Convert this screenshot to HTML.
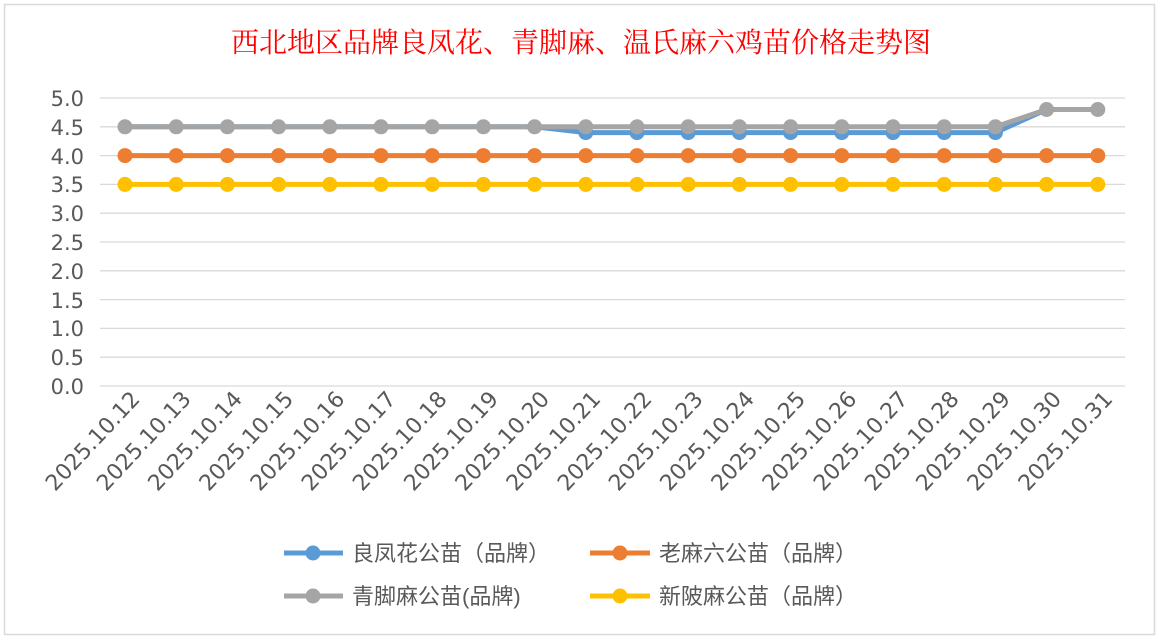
<!DOCTYPE html>
<html><head><meta charset="utf-8"><style>
html,body{margin:0;padding:0;background:#fff;}
svg{display:block;}
</style></head><body>
<svg width="1160" height="640" xmlns="http://www.w3.org/2000/svg">
<rect x="0" y="0" width="1160" height="640" fill="#fff"/>
<rect x="4.5" y="4.5" width="1150" height="630" fill="#fff" stroke="#d9d9d9" stroke-width="1.5"/>
<text x="581" y="52" text-anchor="middle" font-family="'Liberation Serif','Noto Serif CJK SC',serif" font-size="28" fill="#ff0000">西北地区品牌良凤花、青脚麻、温氏麻六鸡苗价格走势图</text>
<g stroke="#d9d9d9" stroke-width="1.3">
<line x1="100" x2="1125" y1="98" y2="98"/><line x1="100" x2="1125" y1="126.8" y2="126.8"/>
<line x1="100" x2="1125" y1="155.6" y2="155.6"/><line x1="100" x2="1125" y1="184.4" y2="184.4"/>
<line x1="100" x2="1125" y1="213.2" y2="213.2"/><line x1="100" x2="1125" y1="242" y2="242"/>
<line x1="100" x2="1125" y1="270.8" y2="270.8"/><line x1="100" x2="1125" y1="299.6" y2="299.6"/>
<line x1="100" x2="1125" y1="328.4" y2="328.4"/><line x1="100" x2="1125" y1="357.2" y2="357.2"/>
<line x1="100" x2="1125" y1="386" y2="386"/>
</g>
<g font-family="'DejaVu Sans',sans-serif" font-size="21" fill="#595959" text-anchor="end">
<text x="84" y="106">5.0</text><text x="84" y="135">4.5</text><text x="84" y="164">4.0</text>
<text x="84" y="192">3.5</text><text x="84" y="221">3.0</text><text x="84" y="250">2.5</text>
<text x="84" y="279">2.0</text><text x="84" y="308">1.5</text><text x="84" y="336">1.0</text>
<text x="84" y="365">0.5</text><text x="84" y="394">0.0</text>
</g>
<g font-family="'DejaVu Sans',sans-serif" font-size="22" fill="#595959" text-anchor="end">
<text transform="translate(141,400) rotate(-47)">2025.10.12</text>
<text transform="translate(192.2,400) rotate(-47)">2025.10.13</text>
<text transform="translate(243.4,400) rotate(-47)">2025.10.14</text>
<text transform="translate(294.6,400) rotate(-47)">2025.10.15</text>
<text transform="translate(345.8,400) rotate(-47)">2025.10.16</text>
<text transform="translate(397,400) rotate(-47)">2025.10.17</text>
<text transform="translate(448.2,400) rotate(-47)">2025.10.18</text>
<text transform="translate(499.4,400) rotate(-47)">2025.10.19</text>
<text transform="translate(550.6,400) rotate(-47)">2025.10.20</text>
<text transform="translate(601.8,400) rotate(-47)">2025.10.21</text>
<text transform="translate(653,400) rotate(-47)">2025.10.22</text>
<text transform="translate(704.2,400) rotate(-47)">2025.10.23</text>
<text transform="translate(755.4,400) rotate(-47)">2025.10.24</text>
<text transform="translate(806.6,400) rotate(-47)">2025.10.25</text>
<text transform="translate(857.8,400) rotate(-47)">2025.10.26</text>
<text transform="translate(909,400) rotate(-47)">2025.10.27</text>
<text transform="translate(960.2,400) rotate(-47)">2025.10.28</text>
<text transform="translate(1011.4,400) rotate(-47)">2025.10.29</text>
<text transform="translate(1062.6,400) rotate(-47)">2025.10.30</text>
<text transform="translate(1113.8,400) rotate(-47)">2025.10.31</text>
</g>
<defs>
<g id="xs">
<circle cx="125" r="7.5"/><circle cx="176.2" r="7.5"/><circle cx="227.4" r="7.5"/><circle cx="278.6" r="7.5"/>
<circle cx="329.8" r="7.5"/><circle cx="381" r="7.5"/><circle cx="432.2" r="7.5"/><circle cx="483.4" r="7.5"/>
<circle cx="534.6" r="7.5"/><circle cx="585.8" r="7.5"/><circle cx="637" r="7.5"/><circle cx="688.2" r="7.5"/>
<circle cx="739.4" r="7.5"/><circle cx="790.6" r="7.5"/><circle cx="841.8" r="7.5"/><circle cx="893" r="7.5"/>
<circle cx="944.2" r="7.5"/><circle cx="995.4" r="7.5"/><circle cx="1046.6" r="7.5"/><circle cx="1097.8" r="7.5"/>
</g>
</defs>
<line x1="125" x2="1097.8" y1="184.4" y2="184.4" stroke="#ffc000" stroke-width="5"/>
<use href="#xs" y="184.4" fill="#ffc000"/>
<line x1="125" x2="1097.8" y1="155.6" y2="155.6" stroke="#ed7d31" stroke-width="5"/>
<use href="#xs" y="155.6" fill="#ed7d31"/>
<polyline points="125,126.8 534.6,126.8 585.8,132.6 995.4,132.6 1046.6,109.5 1097.8,109.5" fill="none" stroke="#5b9bd5" stroke-width="5"/>
<g fill="#5b9bd5">
<circle cx="585.8" cy="132.6" r="7.5"/><circle cx="637" cy="132.6" r="7.5"/><circle cx="688.2" cy="132.6" r="7.5"/>
<circle cx="739.4" cy="132.6" r="7.5"/><circle cx="790.6" cy="132.6" r="7.5"/><circle cx="841.8" cy="132.6" r="7.5"/>
<circle cx="893" cy="132.6" r="7.5"/><circle cx="944.2" cy="132.6" r="7.5"/><circle cx="995.4" cy="132.6" r="7.5"/>
</g>
<polyline points="125,126.8 995.4,126.8 1046.6,109.5 1097.8,109.5" fill="none" stroke="#a5a5a5" stroke-width="5"/>
<g fill="#a5a5a5">
<circle cx="125" cy="126.8" r="7.5"/><circle cx="176.2" cy="126.8" r="7.5"/><circle cx="227.4" cy="126.8" r="7.5"/><circle cx="278.6" cy="126.8" r="7.5"/>
<circle cx="329.8" cy="126.8" r="7.5"/><circle cx="381" cy="126.8" r="7.5"/><circle cx="432.2" cy="126.8" r="7.5"/><circle cx="483.4" cy="126.8" r="7.5"/>
<circle cx="534.6" cy="126.8" r="7.5"/><circle cx="585.8" cy="126.8" r="7.5"/><circle cx="637" cy="126.8" r="7.5"/><circle cx="688.2" cy="126.8" r="7.5"/>
<circle cx="739.4" cy="126.8" r="7.5"/><circle cx="790.6" cy="126.8" r="7.5"/><circle cx="841.8" cy="126.8" r="7.5"/><circle cx="893" cy="126.8" r="7.5"/>
<circle cx="944.2" cy="126.8" r="7.5"/><circle cx="995.4" cy="126.8" r="7.5"/><circle cx="1046.6" cy="109.5" r="7.5"/><circle cx="1097.8" cy="109.5" r="7.5"/>
</g>
<line x1="284" x2="343" y1="553" y2="553" stroke="#5b9bd5" stroke-width="5"/><circle cx="313" cy="553" r="7.5" fill="#5b9bd5"/>
<line x1="590" x2="650" y1="553" y2="553" stroke="#ed7d31" stroke-width="5"/><circle cx="620" cy="553" r="7.5" fill="#ed7d31"/>
<line x1="284" x2="343" y1="596" y2="596" stroke="#a5a5a5" stroke-width="5"/><circle cx="313" cy="596" r="7.5" fill="#a5a5a5"/>
<line x1="590" x2="650" y1="596" y2="596" stroke="#ffc000" stroke-width="5"/><circle cx="620" cy="596" r="7.5" fill="#ffc000"/>
<g font-family="'Liberation Sans','DejaVu Sans','Noto Sans CJK SC',sans-serif" font-size="22" fill="#595959">
<text x="352" y="561">良凤花公苗（品牌）</text>
<text x="659" y="561">老麻六公苗（品牌）</text>
<text x="352" y="604">青脚麻公苗(品牌)</text>
<text x="659" y="604">新陂麻公苗（品牌）</text>
</g>
</svg>
</body></html>
